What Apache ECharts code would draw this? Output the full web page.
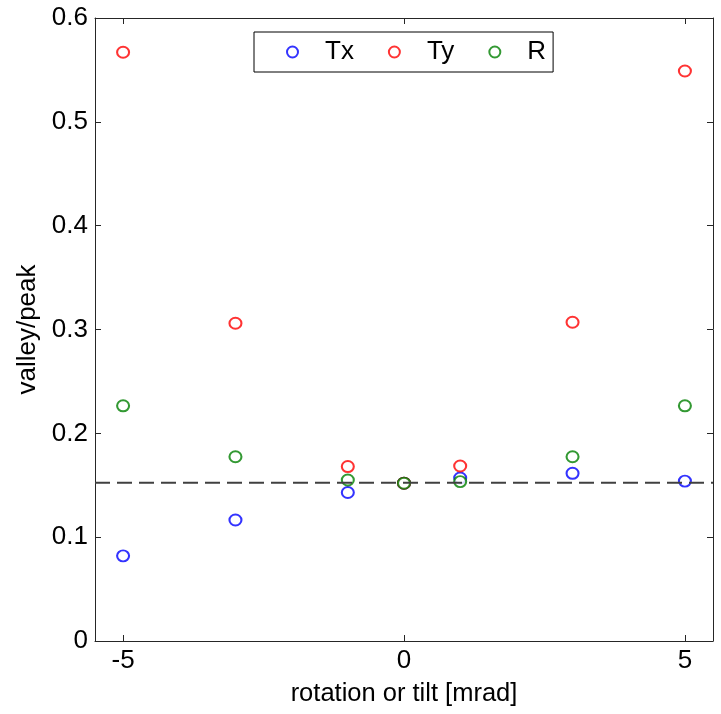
<!DOCTYPE html>
<html>
<head>
<meta charset="utf-8">
<script src="https://cdn.jsdelivr.net/npm/echarts@6/dist/echarts.min.js"></script>
<style>
  html, body { margin: 0; padding: 0; background: #fff; }
  #chart { width: 721px; height: 714px; }
</style>
</head>
<body>
<div id="chart"></div>
<script>
  // values
  const xValues = [-5, -3, -1, 0, 1, 3, 5];
  const txValues = [0.082, 0.1165, 0.143, 0.152, 0.157, 0.1615, 0.154];
  const tyValues = [0.567, 0.306, 0.168, 0.152, 0.1685, 0.307, 0.549];
  const rValues = [0.2265, 0.1775, 0.155, 0.152, 0.1535, 0.1775, 0.2265];
  const refLevel = 0.1525;
  const xRange = [-5.5, 5.5];
  const xTicks = [-5, 0, 5];

  const font = 'Liberation Sans, Arial, sans-serif';
  const axisColor = '#262626';

  function pairs(vals) {
    return xValues.map((x, i) => [x, vals[i]]);
  }

  function scatter(name, vals, color) {
    return {
      name: name,
      type: 'scatter',
      data: pairs(vals),
      symbol: 'emptyCircle',
      symbolSize: [12, 11],
      itemStyle: { color: color, borderColor: color, borderWidth: 1 },
      emphasis: { disabled: true },
      animation: false,
    };
  }

  const chart = echarts.init(document.getElementById('chart'));

  const baseX = {
    type: 'value',
    min: xRange[0],
    max: xRange[1],
    splitLine: { show: false },
    axisLine: { show: true, onZero: false, lineStyle: { color: axisColor, width: 1 } },
    axisTick: { show: true, inside: true, length: 6, customValues: xTicks, lineStyle: { color: axisColor } },
  };
  const baseY = {
    type: 'value',
    min: 0,
    max: 0.6,
    interval: 0.1,
    splitLine: { show: false },
    axisLine: { show: true, onZero: false, lineStyle: { color: axisColor, width: 1 } },
    axisTick: { show: true, inside: true, length: 6, lineStyle: { color: axisColor } },
  };

  const option = {
    backgroundColor: '#fff',
    textStyle: { fontFamily: font },
    grid: { left: 95, right: 8, top: 18, bottom: 73 },
    legend: {
      left: 254,
      top: 32,
      padding: [7, 7, 7, 32],
      itemWidth: 55,
      itemHeight: 11,
      itemGap: 34,
      borderColor: '#000',
      borderWidth: 1,
      backgroundColor: '#fff',
      textStyle: { fontSize: 26, color: '#000', fontFamily: font },
      data: ['Tx', 'Ty', 'R'],
    },
    xAxis: [
      Object.assign({}, baseX, {
        position: 'bottom',
        name: 'rotation or tilt [mrad]',
        nameLocation: 'middle',
        nameGap: 40,
        nameTextStyle: { fontSize: 25.5, color: '#000', fontFamily: font },
        axisLabel: { customValues: xTicks, fontSize: 26, color: '#000', margin: 7, fontFamily: font },
      }),
      Object.assign({}, baseX, {
        position: 'top',
        axisLabel: { show: false },
      }),
    ],
    yAxis: [
      Object.assign({}, baseY, {
        position: 'left',
        name: 'valley/peak',
        nameLocation: 'middle',
        nameGap: 49,
        nameTextStyle: { fontSize: 26, color: '#000', fontFamily: font },
        axisLabel: { fontSize: 26, color: '#000', margin: 7, fontFamily: font },
      }),
      Object.assign({}, baseY, {
        position: 'right',
        axisLabel: { show: false },
      }),
    ],
    series: [
      {
        name: 'reference',
        type: 'line',
        data: xRange.map((x) => [x, refLevel]),
        symbol: 'none',
        silent: true,
        lineStyle: { color: '#404040', width: 2, type: [15, 7] },
        animation: false,
      },
      scatter('Tx', txValues, '#0000ff'),
      scatter('Ty', tyValues, '#ff0000'),
      scatter('R', rValues, '#008000'),
    ],
  };

  chart.setOption(option);
</script>
</body>
</html>
